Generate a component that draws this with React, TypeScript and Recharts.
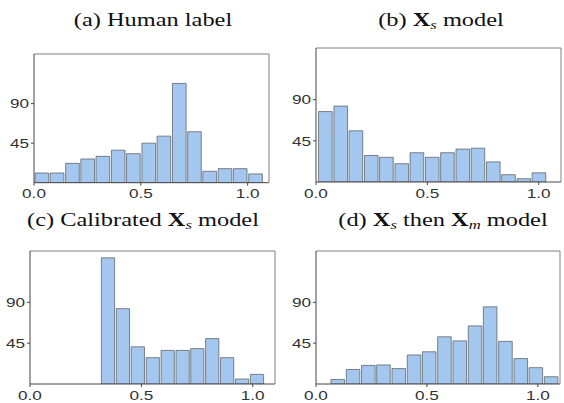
import React from 'react';
import { BarChart, Bar, XAxis, YAxis } from 'recharts';

// bin centres and counts
const binsHuman = [0.036, 0.107, 0.179, 0.25, 0.321, 0.393, 0.464, 0.536, 0.607, 0.679, 0.75, 0.821, 0.893, 0.964, 1.036];
const countsHuman = [11, 11, 22, 27, 30, 37, 33, 45, 53, 113, 58, 13, 16, 16, 10];

const binsXs = [0.041, 0.11, 0.178, 0.247, 0.315, 0.384, 0.452, 0.521, 0.589, 0.658, 0.726, 0.795, 0.863, 0.932, 1.0];
const countsXs = [77, 83, 56, 29, 27, 20, 32, 27, 32, 36, 37, 22, 8, 3.6, 10];

const binsCal = [0.349, 0.416, 0.483, 0.55, 0.617, 0.684, 0.75, 0.817, 0.884, 0.951, 1.018];
const countsCal = [139, 83, 41, 29, 37, 37, 39, 50, 29, 5.5, 10.6];

const binsXm = [0.097, 0.166, 0.235, 0.303, 0.372, 0.441, 0.509, 0.578, 0.647, 0.716, 0.784, 0.853, 0.922, 0.99, 1.059];
const countsXm = [5, 16, 20.5, 21, 17, 32, 35.5, 52, 47.5, 64, 85, 47, 28, 18, 8];

const X_TICKS = [0, 0.5, 1.0];
const X_MAX = 1.1;
const Y_TICKS = [45, 90];
const Y_MAX = 146.5;

const FILL = '#a3c7ee';
const STRETCH = 1.27; // the figure is stretched sideways
const SANS = '"Liberation Sans", Arial, sans-serif';
const SERIF = '"Liberation Serif", "Times New Roman", serif';

const LeftTick = (props: any) => {
    const { x, y, payload } = props;
    return (
        <text
            x={x}
            y={y}
            textAnchor="end"
            dominantBaseline="central"
            fill="#333"
            fontSize={13.5}
            fontFamily={SANS}
            transform={`translate(${x} ${y}) scale(${STRETCH} 1) translate(${-x} ${-y})`}
        >
            {payload.value}
        </text>
    );
};

const BottomTick = (props: any) => {
    const { x, y, payload } = props;
    return (
        <text
            x={x}
            y={y}
            dy="0.8em"
            textAnchor="middle"
            fill="#333"
            fontSize={13.5}
            fontFamily={SANS}
            transform={`translate(${x} ${y}) scale(${STRETCH} 1) translate(${-x} ${-y})`}
        >
            {Number(payload.value).toFixed(1)}
        </text>
    );
};

interface PanelProps {
    left: number;
    top: number;
    w: number;
    h: number;
    bins: number[];
    counts: number[];
    binWidth: number;
}

const Panel: React.FC<PanelProps> = ({ left, top, w, h, bins, counts, binWidth }) => {
    const data = bins.map((x, i) => ({ x, count: counts[i] }));
    const barSize = (w * binWidth) / X_MAX;
    return (
        <div style={{ position: 'absolute', left: left - 34, top: top - 5 }}>
            <BarChart width={34 + w + 5} height={5 + h + 20} data={data} margin={{ top: 0, right: 0, bottom: 0, left: 0 }}>
                <XAxis
                    xAxisId="b"
                    type="number"
                    dataKey="x"
                    domain={[0, X_MAX]}
                    ticks={X_TICKS}
                    allowDataOverflow
                    height={20}
                    tickSize={3}
                    stroke="#444"
                    tick={(p: any) => <BottomTick {...p} />}
                />
                <XAxis
                    xAxisId="t"
                    orientation="top"
                    type="number"
                    domain={[0, X_MAX]}
                    ticks={X_TICKS}
                    allowDataOverflow
                    height={5}
                    tickSize={3}
                    stroke="#808080"
                    tick={false}
                />
                <YAxis
                    yAxisId="l"
                    domain={[0, Y_MAX]}
                    ticks={Y_TICKS}
                    allowDataOverflow
                    width={34}
                    tickSize={3}
                    stroke="#444"
                    tick={(p: any) => <LeftTick {...p} />}
                />
                <YAxis
                    yAxisId="r"
                    orientation="right"
                    domain={[0, Y_MAX]}
                    ticks={Y_TICKS}
                    allowDataOverflow
                    width={5}
                    tickSize={3}
                    stroke="#808080"
                    tick={false}
                />
                <Bar
                    xAxisId="b"
                    yAxisId="l"
                    dataKey="count"
                    fill={FILL}
                    stroke="#555"
                    strokeOpacity={0.7}
                    strokeWidth={1}
                    barSize={barSize}
                    isAnimationActive={false}
                />
            </BarChart>
        </div>
    );
};

const Title: React.FC<{ cx: number; top: number; children: React.ReactNode }> = ({ cx, top, children }) => (
    <div
        style={{
            position: 'absolute',
            left: cx,
            top,
            whiteSpace: 'nowrap',
            fontFamily: SERIF,
            fontSize: 19.5,
            lineHeight: '19.5px',
            color: '#111',
            transform: `translateX(-50%) scaleX(1.25)`,
        }}
    >
        {children}
    </div>
);

const Sub: React.FC<{ children: React.ReactNode }> = ({ children }) => (
    <span style={{ fontStyle: 'italic', fontSize: '0.68em', position: 'relative', top: '0.25em' }}>{children}</span>
);

export default function App() {
    return (
        <div style={{ position: 'absolute', left: 0, top: 0, width: 564, height: 403, background: '#fff', overflow: 'hidden' }}>
            <Title cx={153} top={9.5}>(a) Human label</Title>
            <Title cx={441} top={9.5}>
                (b) <b>X</b>
                <Sub>s</Sub> model
            </Title>
            <Title cx={143} top={210}>
                (c) Calibrated <b>X</b>
                <Sub>s</Sub> model
            </Title>
            <Title cx={443} top={210}>
                (d) <b>X</b>
                <Sub>s</Sub> then <b>X</b>
                <Sub>m</Sub> model
            </Title>

            <Panel left={34.3} top={54.3} w={235} h={128.7} bins={binsHuman} counts={countsHuman} binWidth={0.0714} />
            <Panel left={316.3} top={48.3} w={245} h={134} bins={binsXs} counts={countsXs} binWidth={0.0685} />
            <Panel left={30} top={250.7} w={245} h={133} bins={binsCal} counts={countsCal} binWidth={0.0668} />
            <Panel left={316.3} top={250.7} w={244} h={133} bins={binsXm} counts={countsXm} binWidth={0.0687} />
        </div>
    );
}
